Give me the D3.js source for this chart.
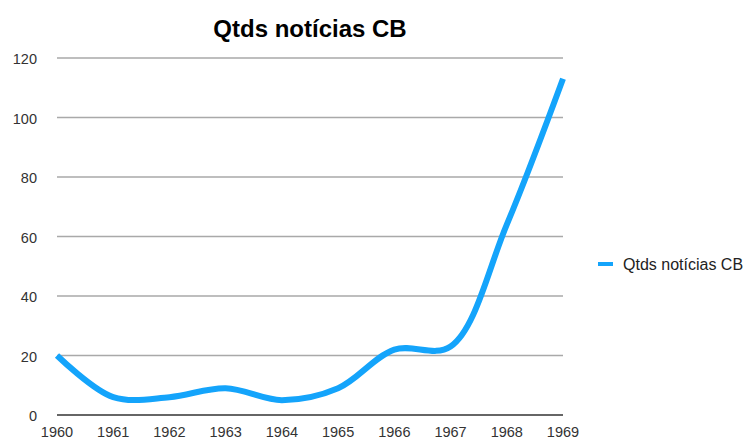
<!DOCTYPE html>
<html>
<head>
<meta charset="utf-8">
<script src="https://cdn.jsdelivr.net/npm/d3@7"></script>
<style>
  html, body { margin: 0; padding: 0; background: #fff; }
  svg { display: block; font-family: "Liberation Sans", Arial, Helvetica, sans-serif; }
</style>
</head>
<body>
<svg id="chart" width="748" height="441"></svg>
<script>
const title = "Qtds notícias CB";
const seriesName = "Qtds notícias CB";
const years = ["1960","1961","1962","1963","1964","1965","1966","1967","1968","1969"];
const values = [20, 6, 6, 9, 5, 9, 22, 23, 64, 113];
const yTicks = [0, 20, 40, 60, 80, 100, 120];

const svg = d3.select("#chart");
const plotLeft = 57, plotRight = 563, plotTop = 58, plotBottom = 415;

const x = d3.scalePoint().domain(years).range([plotLeft, plotRight]);
const y = d3.scaleLinear().domain([0, 120]).range([plotBottom, plotTop]);

// title
svg.append("text")
  .attr("x", (plotLeft + plotRight) / 2).attr("y", 37)
  .attr("text-anchor", "middle")
  .attr("font-size", 24).attr("font-weight", "bold").attr("fill", "#000")
  .text(title);

// gridlines
svg.append("g").selectAll("line")
  .data(yTicks.filter(d => d !== 0))
  .join("line")
  .attr("x1", plotLeft).attr("x2", plotRight)
  .attr("y1", d => y(d)).attr("y2", d => y(d))
  .attr("stroke", "#a9a9a9").attr("stroke-width", 1.5);

// y labels
svg.append("g").selectAll("text")
  .data(yTicks)
  .join("text")
  .attr("x", 37).attr("y", d => y(d))
  .attr("dy", "0.42em")
  .attr("text-anchor", "end")
  .attr("font-size", 14.5).attr("fill", "#333")
  .text(d => d);

// baseline axis
svg.append("line")
  .attr("x1", plotLeft).attr("x2", plotRight)
  .attr("y1", y(0)).attr("y2", y(0))
  .attr("stroke", "#333").attr("stroke-width", 1.5);

// x labels
svg.append("g").selectAll("text")
  .data(years)
  .join("text")
  .attr("x", d => x(d)).attr("y", 437)
  .attr("text-anchor", "middle")
  .attr("font-size", 14.5).attr("fill", "#333")
  .text(d => d);

// line
const line = d3.line()
  .x((d, i) => x(years[i]))
  .y(d => y(d))
  .curve(d3.curveCatmullRom.alpha(0.5));

svg.append("path")
  .datum(values)
  .attr("d", line)
  .attr("fill", "none")
  .attr("stroke", "#14a4fb")
  .attr("stroke-width", 6)
  .attr("stroke-linejoin", "round");

// legend
svg.append("line")
  .attr("x1", 598).attr("x2", 613)
  .attr("y1", 264).attr("y2", 264)
  .attr("stroke", "#14a4fb").attr("stroke-width", 4);
svg.append("text")
  .attr("x", 623).attr("y", 264).attr("dy", "0.36em")
  .attr("font-size", 16).attr("fill", "#222")
  .text(seriesName);
</script>
</body>
</html>
